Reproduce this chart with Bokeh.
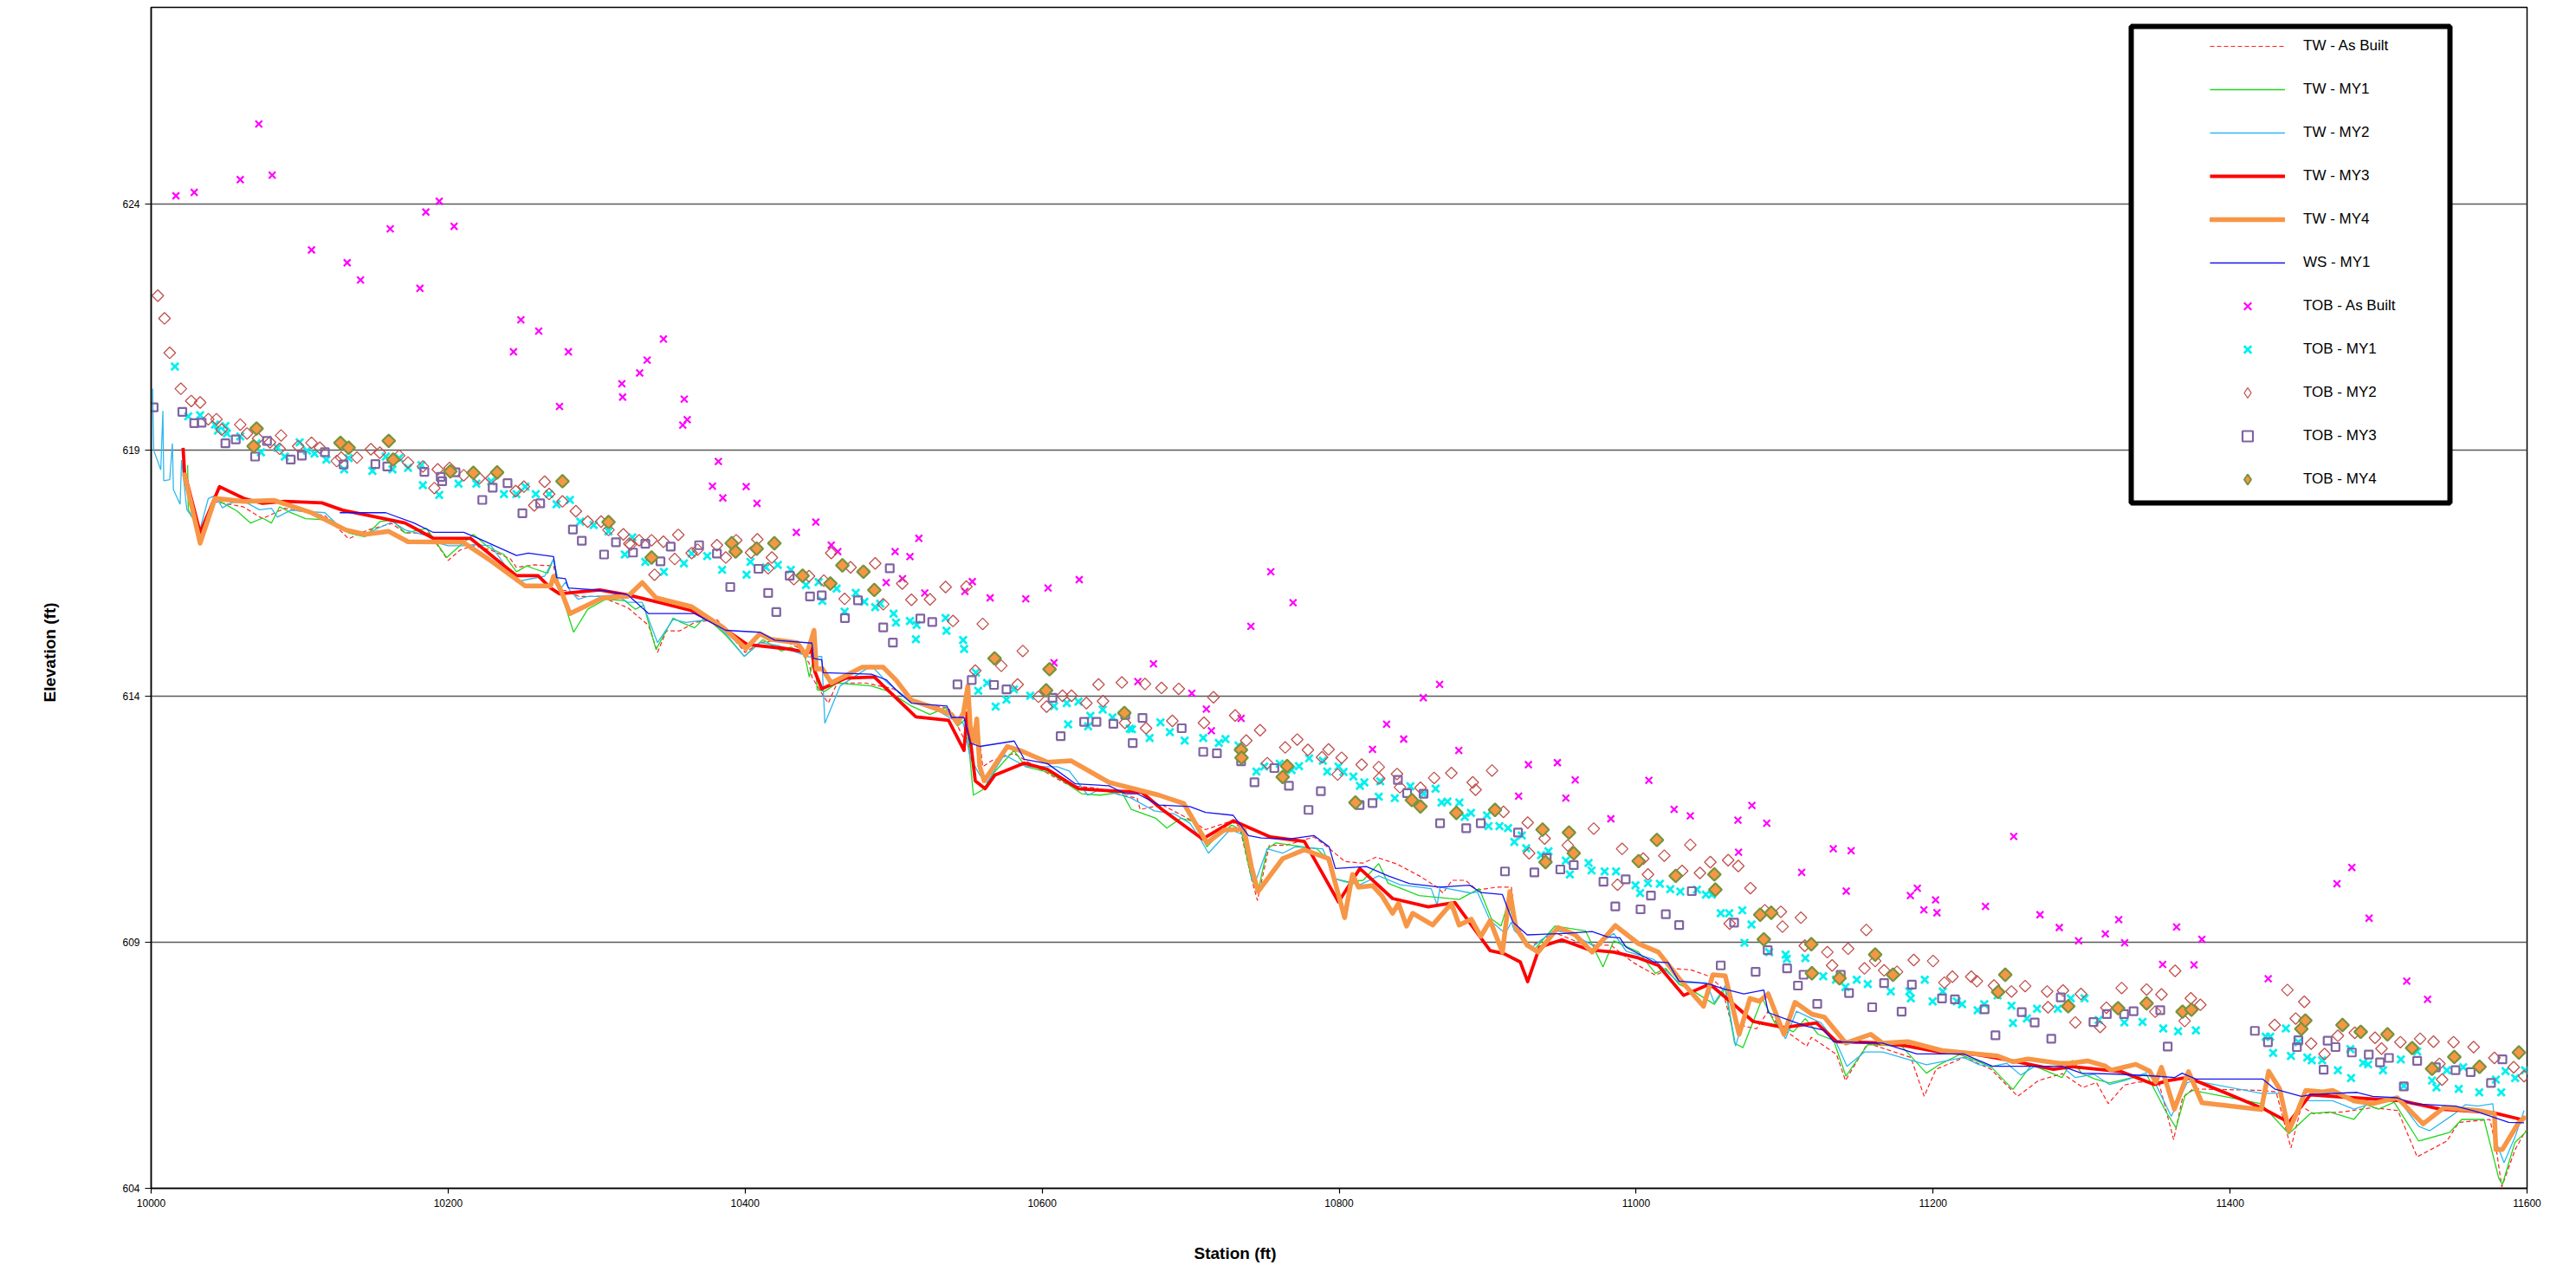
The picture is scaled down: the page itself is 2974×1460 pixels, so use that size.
import numpy as np
from bokeh.plotting import figure
from bokeh.models import Range1d, FixedTicker, Legend, LegendItem, BoxAnnotation, Title
from bokeh.embed import file_html
from bokeh.resources import INLINE

# ---------------- data (station ft, elevation ft) ----------------
x_ticks = [10000, 10200, 10400, 10600, 10800, 11000, 11200, 11400, 11600]
y_ticks = [604, 609, 614, 619, 624]

tw_ab = [(10042,617.96),(10062,617.85),(10075,617.61),(10090,617.82),(10117,617.67),(10133,617.2),(10146,617.38),(10162,617.51),(10171,617.32),(10187,617.32),(10200,616.76),(10208,616.97),(10217,617.06),(10229,616.97),(10242,616.79),(10246,616.62),(10258,616.67),(10271,616.65),(10275,616.15),(10279,616.15),(10288,616.03),(10302,616.03),(10321,615.8),(10335,615.44),(10341,614.89),(10347,615.33),(10356,615.33),(10366,615.5),(10381,615.56),(10400,614.89),(10410,615.09),(10425,615.15),(10435,615.0),(10443,614.68),(10445,614.39),(10452,614.04),(10456,613.86),(10462,614.27),(10481,614.27),(10500,614.15),(10512,613.89),(10537,613.76),(10547,613.16),(10558,613.1),(10560,612.57),(10566,612.69),(10581,612.84),(10589,612.69),(10604,612.43),(10618,612.19),(10637,612.13),(10652,612.0),(10664,611.93),(10666,611.7),(10681,611.79),(10698,611.52),(10710,611.29),(10727,611.46),(10733,611.35),(10741,610.29),(10745,609.85),(10753,610.97),(10764,610.97),(10783,611.14),(10792,610.94),(10804,610.64),(10816,610.61),(10825,610.73),(10839,610.59),(10854,610.35),(10866,610.12),(10870,610.0),(10876,610.26),(10885,610.26),(10893,610.06),(10906,610.12),(10916,610.12),(10919,609.41),(10928,608.9),(10945,609.2),(10965,608.95),(10983,608.94),(10998,608.59),(11013,608.33),(11023,608.47),(11037,608.44),(11050,608.3),(11058,608.06),(11064,607.36),(11081,607.24),(11089,607.6),(11096,607.3),(11115,606.89),(11118,607.07),(11135,606.72),(11141,606.19),(11156,606.95),(11185,606.66),(11194,605.87),(11202,606.42),(11221,606.66),(11239,606.42),(11257,605.87),(11271,606.19),(11287,606.33),(11301,606.05),(11310,606.15),(11318,605.72),(11329,606.1),(11338,606.16),(11352,606.16),(11362,604.99),(11368,605.84),(11375,606.02),(11421,605.99),(11431,605.96),(11441,604.82),(11448,605.67),(11456,605.52),(11475,605.55),(11496,605.64),(11513,605.58),(11526,604.64),(11546,604.96),(11554,605.34),(11575,605.4),(11579,604.85),(11583,604.03),(11592,604.79),(11599,605.17)]

tw_my1 = [(10024.6,618.7),(10025,617.79),(10033,617.32),(10042,618.02),(10050,617.9),(10058,617.76),(10067,617.52),(10075,617.62),(10081,617.52),(10086.5,617.85),(10092,617.76),(10104,617.61),(10121,617.58),(10133,617.32),(10144,617.24),(10154,617.55),(10162.5,617.58),(10171,617.32),(10185.5,617.41),(10199,616.82),(10208,617.06),(10217,617.29),(10227,617.03),(10237.6,616.88),(10246,616.53),(10253,616.65),(10258,616.59),(10267,616.5),(10271,616.79),(10275,616.2),(10284.5,615.3),(10294,615.77),(10306,615.97),(10319,615.94),(10326,615.77),(10331.7,615.85),(10340,614.95),(10351.5,615.59),(10357,615.5),(10366,615.39),(10373.4,615.62),(10387,615.24),(10399.5,614.81),(10412,615.15),(10424.5,614.92),(10430.7,615.0),(10440,614.86),(10443.2,614.39),(10447,614.86),(10448.5,614.13),(10453.7,614.1),(10462,614.27),(10485,614.21),(10496.4,614.1),(10512,613.8),(10524.5,613.63),(10535,613.77),(10543,613.39),(10548.5,613.54),(10550.6,613.01),(10553.7,611.99),(10560,612.1),(10568,612.46),(10581,612.9),(10589,612.57),(10603.7,612.46),(10614,612.28),(10626.6,612.02),(10639,611.99),(10653.7,612.05),(10660,611.7),(10676.6,611.52),(10684,611.32),(10693.3,611.52),(10701.6,611.46),(10708,611.11),(10711,610.94),(10718.3,611.17),(10727.7,611.38),(10734,611.29),(10741,610.29),(10745.4,610.03),(10751.6,610.9),(10757.5,611.02),(10785,610.9),(10791,610.73),(10797.5,610.29),(10805.8,610.23),(10816.2,610.26),(10826.7,610.6),(10833,610.2),(10853.8,609.95),(10880.8,609.87),(10894.4,610.09),(10902.7,609.47),(10909,609.33),(10914,609.82),(10918,609.37),(10930.9,608.83),(10945.4,609.33),(10966,609.23),(10977.7,608.5),(10985,609.03),(11001.7,608.8),(11013,608.37),(11020,608.47),(11028.8,608.15),(11039,608.0),(11052.7,607.74),(11060,608.06),(11066.3,606.95),(11072,606.86),(11085,607.86),(11093.4,607.36),(11105.9,607.18),(11114,607.45),(11122.6,607.13),(11133,607.01),(11141.3,606.28),(11156,606.92),(11178.8,606.89),(11195.5,606.34),(11204,606.51),(11218,606.72),(11231,606.57),(11239.6,606.45),(11253.8,606.01),(11266.3,606.51),(11286.8,606.25),(11293.8,606.6),(11300,606.34),(11309,606.22),(11318.8,606.14),(11330,606.22),(11343.8,606.31),(11357,605.55),(11363.6,605.23),(11369.8,605.9),(11375,605.99),(11421,605.72),(11439.6,605.11),(11454,605.52),(11467,605.55),(11483.4,605.4),(11491.7,605.7),(11500,605.61),(11510.5,605.75),(11527,604.96),(11548,605.14),(11556,605.4),(11571,605.4),(11581,604.2),(11583.4,604.08),(11591.8,604.93),(11600,605.17)]

tw_my2 = [(10001,620.25),(10001.7,619.0),(10006.5,618.6),(10007.9,619.8),(10008.5,618.38),(10012.5,618.4),(10014.3,619.14),(10015,618.2),(10019.5,617.9),(10020.5,618.8),(10024,617.8),(10033,617.4),(10038.5,618.02),(10043,618.08),(10048,617.83),(10054,617.93),(10062.5,617.96),(10073,617.79),(10081,617.82),(10085,617.64),(10094,617.78),(10117,617.73),(10125,617.5),(10133,617.38),(10146,617.32),(10162.5,617.55),(10171,617.38),(10187.6,617.25),(10194,617.11),(10200,617.06),(10210.5,617.06),(10217,617.08),(10229,617.06),(10246,616.33),(10265,616.44),(10271,616.79),(10275,616.15),(10279,616.32),(10282,616.15),(10287.6,615.97),(10294,616.03),(10300,616.03),(10312.6,616.06),(10321,615.91),(10330.7,615.91),(10341,615.09),(10351.5,615.56),(10360,615.5),(10376.6,615.56),(10387,615.27),(10399.5,614.81),(10410,615.09),(10422.4,615.03),(10443,614.8),(10451.6,614.81),(10453.7,613.45),(10464,614.21),(10485,614.62),(10496,614.27),(10512,613.89),(10530.8,613.69),(10539,613.54),(10547,613.45),(10551.6,612.75),(10558,612.4),(10563,612.25),(10574.5,612.81),(10589,612.57),(10610,612.57),(10618.3,612.48),(10630.8,611.99),(10639,612.11),(10660,611.93),(10675.6,611.67),(10689,611.61),(10699.5,611.42),(10705.8,611.14),(10712,610.81),(10726.6,611.29),(10737,611.17),(10741,610.29),(10744,610.26),(10751.6,610.9),(10762,610.81),(10770.4,610.94),(10789,610.9),(10797.5,610.29),(10803.7,610.23),(10814,610.17),(10826.7,610.35),(10841,610.17),(10862,610.09),(10866,609.76),(10868,610.12),(10889,610.0),(10893,610.03),(10901.7,609.44),(10912,609.18),(10916,609.41),(10918,609.24),(10930,608.9),(10945,609.25),(10960,609.12),(10972.5,608.91),(10985,609.18),(10993.3,608.82),(11012,608.65),(11028.8,608.18),(11047.5,608.18),(11052.7,607.77),(11060,608.12),(11067,606.89),(11076.7,607.89),(11083,607.77),(11089,608.0),(11095.5,607.3),(11100.7,607.04),(11108,607.6),(11124.6,607.36),(11135,606.95),(11142,606.48),(11153.8,606.77),(11166,606.77),(11195.5,606.51),(11220.5,606.66),(11231,606.51),(11240,606.48),(11249.7,606.54),(11259,606.3),(11268.4,606.48),(11286.8,606.48),(11295.8,606.25),(11308.3,606.32),(11318.8,606.11),(11329,606.19),(11345.8,606.37),(11356.3,605.72),(11360.4,605.46),(11371,606.14),(11375,606.19),(11421,605.93),(11433.4,605.93),(11439.6,605.23),(11450,605.78),(11469,605.78),(11483.4,605.61),(11498,605.75),(11512.6,605.84),(11527,605.26),(11534.5,605.17),(11550,605.49),(11558.4,605.7),(11566.8,605.67),(11577,605.72),(11579,604.96),(11584.5,604.52),(11592,605.05),(11598,605.58)]

tw_my3 = [(10021.5,619.05),(10022.5,618.55),(10033,617.32),(10046,618.26),(10062.5,618.02),(10075,617.92),(10090,617.96),(10115,617.93),(10129,617.78),(10142,617.7),(10171,617.52),(10190,617.21),(10215,617.21),(10246,616.45),(10260.5,616.45),(10269,616.2),(10275,616.08),(10302,616.16),(10321,616.06),(10343,615.9),(10364,615.74),(10385,615.39),(10401.6,615.05),(10426.6,614.97),(10443,614.89),(10444,615.1),(10447,614.5),(10451.6,614.15),(10468,614.37),(10487,614.39),(10515,613.58),(10537,613.51),(10547.4,612.9),(10549.5,613.66),(10555,612.28),(10561.6,612.12),(10568.3,612.4),(10588,612.64),(10603.7,612.51),(10624.6,612.12),(10645,612.08),(10667,612.05),(10680.8,611.7),(10708,611.1),(10728.7,611.47),(10753.7,611.14),(10776.6,611.05),(10799.6,609.82),(10814,610.5),(10836,609.89),(10860,609.72),(10878,609.81),(10901.7,608.83),(10911,608.77),(10922,608.6),(10927,608.2),(10935,608.9),(10950,609.05),(10968,608.85),(10985,608.8),(11001.7,608.68),(11015,608.53),(11032,607.92),(11049.6,608.15),(11068,607.68),(11078.8,607.39),(11099.6,607.27),(11121.5,607.36),(11135,606.98),(11160,606.96),(11181,606.9),(11204,606.77),(11229,606.72),(11251.8,606.6),(11281,606.42),(11293.8,606.47),(11327,606.37),(11349,606.11),(11358.4,606.19),(11371,606.25),(11379,606.16),(11400,605.9),(11423,605.61),(11439.6,605.34),(11454,605.9),(11483,605.84),(11515,605.78),(11541.7,605.61),(11577,605.54),(11596,605.4)]

tw_my4 = [(10022.5,618.5),(10033,617.11),(10043,618.02),(10062.5,617.96),(10083,617.98),(10108,617.73),(10131,617.38),(10144,617.29),(10160,617.35),(10173,617.14),(10210,617.13),(10227,616.79),(10252,616.24),(10269,616.24),(10271,616.44),(10276,616.15),(10282,615.68),(10304,616.0),(10321,616.03),(10330.7,616.31),(10340,616.0),(10364,615.82),(10385,615.4),(10400.5,614.97),(10410,615.27),(10417,615.16),(10435,615.09),(10441,614.83),(10444,615.09),(10446.4,615.34),(10448,614.55),(10452,614.56),(10458,614.27),(10478.7,614.59),(10493,614.59),(10501.6,614.33),(10512,613.92),(10526.6,613.77),(10539,613.63),(10543,613.45),(10547,613.66),(10550,614.21),(10551.6,613.39),(10554,613.07),(10556,613.54),(10558,612.57),(10561,612.28),(10576.6,612.98),(10585,612.9),(10603.7,612.66),(10619.3,612.69),(10645,612.25),(10651.6,612.2),(10678.7,611.99),(10695.4,611.82),(10711,611.02),(10722.5,611.28),(10736,611.3),(10741,610.53),(10745.4,610.03),(10762,610.7),(10776.6,610.88),(10793,610.7),(10803.7,609.5),(10809,610.38),(10813,610.12),(10822.5,610.15),(10828.7,609.95),(10836,609.59),(10840,609.79),(10845.4,609.33),(10849.6,609.59),(10863,609.35),(10875.6,609.79),(10880.8,609.35),(10889,609.47),(10895.4,609.12),(10901.7,609.44),(10910,608.8),(10915,610.03),(10919,609.3),(10926.7,608.94),(10934,608.8),(10947.5,609.3),(10959,609.15),(10970.4,608.8),(10986,609.34),(11001.7,608.97),(11015,608.8),(11028.8,608.27),(11045.4,607.7),(11051.7,608.34),(11060,608.32),(11069.4,607.13),(11076.7,607.86),(11083,607.8),(11089,607.95),(11099.6,607.13),(11107,607.78),(11118.4,607.54),(11126.7,607.48),(11141.3,606.95),(11158,607.13),(11166,606.95),(11183,606.98),(11206,606.8),(11243.4,606.69),(11253.8,606.57),(11264,606.63),(11285,606.54),(11291.7,606.54),(11304,606.59),(11315.6,606.49),(11320,606.4),(11336.5,606.52),(11345.9,606.38),(11350,606.16),(11353.8,606.46),(11362.5,605.61),(11372,606.37),(11381,605.74),(11421,605.6),(11426,606.38),(11433.4,606.02),(11439.6,605.17),(11446,605.61),(11451,605.99),(11462.6,605.96),(11469,605.99),(11483,605.78),(11496,605.72),(11504,605.78),(11512.6,605.84),(11530,605.31),(11544,605.64),(11567,605.58),(11578,605.52),(11579,604.79),(11583.4,604.79),(11594,605.32),(11598,605.43)]

ws_my1 = [(10127,617.73),(10158,617.73),(10177,617.52),(10190,617.33),(10210.5,617.33),(10221,617.2),(10246,616.86),(10254,616.91),(10271,616.84),(10273,616.41),(10279,616.39),(10281,616.2),(10304,616.15),(10321,616.06),(10335,615.68),(10366,615.68),(10387,615.34),(10410,615.3),(10420,615.14),(10445,615.08),(10446,614.77),(10451.6,614.74),(10452.6,614.48),(10485,614.45),(10495.3,614.33),(10501.6,614.13),(10512,613.86),(10536,613.8),(10539,613.57),(10547.4,613.57),(10551.6,613.05),(10558,612.98),(10581.2,613.09),(10588,612.72),(10603.7,612.63),(10622.5,612.22),(10645,612.18),(10655.8,612.02),(10664,612.02),(10678.7,611.79),(10699.5,611.76),(10710,611.64),(10728.7,611.58),(10739,611.17),(10747.5,611.12),(10766,611.1),(10783,611.17),(10793.3,610.94),(10797.5,610.5),(10818.3,610.54),(10833,610.35),(10847.5,610.19),(10868,610.12),(10888,610.16),(10895.4,610.01),(10910,609.97),(10917,609.41),(10926.7,609.15),(10951.7,609.18),(10970.4,609.22),(10980.8,609.11),(10989,609.09),(10993.3,608.9),(11012,608.6),(11021.5,608.59),(11028.8,608.21),(11039,608.19),(11049.6,608.15),(11058,608.06),(11072.5,607.95),(11086,608.03),(11089,607.57),(11101.7,607.43),(11114,607.3),(11126.7,607.21),(11133,606.98),(11166,606.95),(11189,606.73),(11220.5,606.73),(11240,606.48),(11262,606.48),(11286.8,606.48),(11300,606.34),(11325,606.32),(11350,606.28),(11362.5,606.25),(11367.7,606.34),(11377,606.22),(11422,606.22),(11430,606.02),(11448,605.87),(11456,605.91),(11485.5,605.95),(11496,605.87),(11512.6,605.84),(11523,605.72),(11552,605.67),(11566.8,605.55),(11587.6,605.34),(11598,605.33)]

tob_ab = [(10016.7,624.17),(10029,624.24),(10060,624.5),(10072.5,625.63),(10081.5,624.59),(10108,623.07),(10132,622.81),(10141,622.46),(10161,623.5),(10181,622.29),(10185,623.84),(10194,624.06),(10204,623.55),(10244,621.0),(10249,621.65),(10261,621.42),(10275,619.89),(10281,621.0),(10317,620.35),(10317.5,620.08),(10329,620.57),(10334,620.83),(10345,621.26),(10358,619.51),(10359,620.04),(10361,619.62),(10378,618.27),(10382,618.77),(10385,618.03),(10400.7,618.26),(10408,617.92),(10434.5,617.33),(10447.6,617.54),(10458,617.07),(10462.4,616.94),(10495,616.31),(10501,616.94),(10506,616.39),(10511,616.84),(10517,617.21),(10521,616.1),(10548,616.13),(10553,616.33),(10565,616.0),(10589,615.98),(10604,616.2),(10608,614.68),(10625,616.37),(10664.5,614.3),(10675,614.66),(10700.8,614.06),(10710.6,613.74),(10714,613.3),(10734,613.55),(10740.6,615.42),(10754,616.53),(10769,615.9),(10822.5,612.92),(10832,613.43),(10843.5,613.13),(10856.7,613.97),(10867.7,614.24),(10880.6,612.9),(10920.9,611.97),(10927.5,612.61),(10947,612.65),(10952.7,611.93),(10959,612.3),(10983,611.51),(11008.6,612.29),(11025.6,611.7),(11036.5,611.57),(11068.6,611.48),(11069,610.83),(11078,611.78),(11088,611.42),(11111.5,610.42),(11132.8,610.9),(11141.5,610.04),(11144.8,610.86),(11184.7,609.95),(11189.4,610.1),(11193.8,609.66),(11201.7,609.86),(11202.6,609.6),(11235.3,609.73),(11254.3,611.15),(11272,609.56),(11285,609.3),(11298,609.03),(11316,609.17),(11325,609.46),(11329,608.99),(11354.6,608.55),(11364,609.31),(11375.7,608.54),(11381,609.06),(11425.7,608.26),(11472,610.19),(11482,610.52),(11493.6,609.49),(11519,608.21),(11533,607.84)]

tob_my1 = [(10016,620.7),(10025,619.69),(10033,619.71),(10043,619.52),(10045,619.4),(10050,619.49),(10051,619.34),(10060,619.28),(10071,619.14),(10074,618.96),(10085,619.05),(10090,618.87),(10100,619.16),(10105,618.99),(10110,618.93),(10118,618.81),(10130,618.61),(10133,618.84),(10149,618.58),(10158,618.87),(10162.5,618.61),(10167,618.84),(10173,618.64),(10182,618.7),(10183,618.29),(10194,618.09),(10207,618.32),(10219,618.32),(10229,618.37),(10237.6,618.11),(10246,618.11),(10252,618.26),(10259,618.11),(10268,618.11),(10273,617.9),(10282,617.99),(10289,617.55),(10298,617.48),(10308,617.35),(10319,616.88),(10324,617.23),(10332.8,616.73),(10345.3,616.53),(10358.8,616.7),(10364,616.9),(10374.5,616.85),(10384.5,616.57),(10401,616.47),(10403.6,616.73),(10414,616.62),(10422,616.67),(10430.8,616.57),(10441,616.26),(10449.5,616.32),(10452,615.94),(10461.6,616.19),(10467,615.72),(10474.5,616.1),(10480.3,615.92),(10487.6,615.81),(10491,615.88),(10500,615.68),(10501.6,615.5),(10511,615.53),(10515,615.16),(10515.5,615.45),(10535,615.59),(10535.6,615.33),(10546.8,615.14),(10547.5,614.96),(10555.4,614.48),(10557,614.11),(10563,614.27),(10568.7,613.79),(10576,613.93),(10581,614.14),(10592,614.01),(10608,613.8),(10616.6,613.86),(10617.5,613.43),(10624.5,613.89),(10631,613.39),(10632.5,613.6),(10640.8,613.73),(10647.4,613.57),(10659,613.34),(10660.5,613.33),(10672.4,613.15),(10679.7,613.47),(10686,613.27),(10696,613.1),(10708.5,613.15),(10719,613.05),(10723.5,613.13),(10732.3,613.0),(10744.3,612.47),(10749.5,612.57),(10760,612.63),(10768,612.5),(10773,612.58),(10779.8,612.74),(10789,612.69),(10792,612.47),(10799.6,612.57),(10803,612.46),(10809.6,612.37),(10814,612.18),(10817,612.25),(10826.7,611.96),(10827.7,612.27),(10837.5,611.93),(10848,612.17),(10857,612.02),(10865,612.12),(10869,611.84),(10873,611.86),(10881,611.84),(10884.6,611.55),(10888.8,611.63),(10899.6,611.58),(10900.6,611.36),(10908,611.36),(10913.8,611.32),(10918,611.04),(10923,611.17),(10926,610.91),(10936,610.77),(10941,610.85),(10952.7,610.66),(10955.4,610.38),(10968,610.61),(10970,610.46),(10978.8,610.44),(10986.5,610.44),(10999.6,610.16),(11002.7,610.0),(11008,610.2),(11016,610.19),(11023,610.08),(11029.8,610.03),(11041,610.07),(11047,609.97),(11051,609.97),(11057,609.59),(11062.7,609.59),(11071.5,609.65),(11073,608.99),(11077.7,609.36),(11089.6,608.8),(11100.7,608.75),(11101.5,608.66),(11114,608.68),(11126,608.31),(11134.6,608.24),(11141,608.09),(11148.6,608.24),(11156,608.15),(11171.5,608.0),(11184,608.0),(11185,607.86),(11194.4,608.24),(11199.7,607.8),(11206.5,608.0),(11216,607.8),(11219.5,607.74),(11230,607.62),(11234.5,607.74),(11243.4,607.92),(11252.8,607.71),(11253.8,607.36),(11263.2,607.45),(11270,607.65),(11284,607.65),(11292.7,607.86),(11302,607.86),(11311.5,607.42),(11328.8,607.37),(11341,607.38),(11355,607.25),(11365,607.19),(11377,607.21),(11424,607.08),(11427,607.08),(11429,606.75),(11437.6,607.25),(11441,606.69),(11446,606.97),(11452,606.66),(11455,606.6),(11462,606.6),(11472.6,606.4),(11481,606.83),(11481.5,606.24),(11489.6,606.55),(11493,606.52),(11503,606.4),(11515,606.62),(11517,606.08),(11526,606.78),(11536,606.19),(11539,606.05),(11546,606.4),(11554,606.02),(11557,606.46),(11567.8,605.95),(11579,606.21),(11582.6,605.95),(11585.5,606.38),(11592,606.24),(11598.6,606.4)]

tob_my2 = [(10004.5,622.14),(10009,621.68),(10012.5,620.98),(10020,620.25),(10027,620.0),(10033,619.97),(10038.5,619.63),(10044,619.63),(10047.5,619.42),(10060,619.52),(10064.6,619.34),(10072,619.24),(10080,619.16),(10086.5,619.03),(10087.5,619.3),(10099,619.08),(10108,619.15),(10113.6,619.05),(10125,618.78),(10128,618.85),(10138.6,618.85),(10148,619.02),(10154,618.95),(10167,618.89),(10173,618.75),(10183,618.67),(10190.7,618.23),(10193,618.61),(10201,618.64),(10210.5,618.49),(10221,618.43),(10229,618.43),(10245.5,618.17),(10251,618.26),(10258,617.88),(10265,618.36),(10268,618.11),(10277,617.96),(10286,617.76),(10294,617.55),(10303,617.55),(10308,617.38),(10318,617.29),(10322,617.1),(10323,617.08),(10328.6,617.17),(10337,617.17),(10339,616.47),(10345,617.14),(10352.6,616.79),(10355,617.28),(10364,616.91),(10368,616.98),(10381,617.07),(10387,616.82),(10394,617.17),(10404,616.92),(10408.2,617.19),(10415.5,616.6),(10418,616.82),(10432.8,616.38),(10443,616.44),(10453,616.35),(10458,616.91),(10467,615.98),(10471,616.62),(10487.6,616.7),(10493,615.87),(10505.8,616.29),(10512,615.96),(10524.5,615.97),(10535,616.22),(10540,615.53),(10549,616.23),(10555,614.52),(10560,615.47),(10572.5,614.62),(10583.5,614.24),(10587,614.92),(10597.5,613.99),(10603,613.79),(10613.7,614.01),(10619.8,614.01),(10629.8,613.86),(10638,614.24),(10641,613.9),(10653.7,614.28),(10655.8,613.46),(10669.3,614.25),(10670,613.35),(10680.4,614.17),(10687.7,613.5),(10692,614.15),(10709,613.46),(10715.4,613.98),(10730,613.61),(10737.5,613.1),(10746.8,613.31),(10751.6,612.64),(10763.7,612.96),(10771.8,613.12),(10779,612.91),(10788.5,612.76),(10792.9,612.92),(10799,612.41),(10801.7,612.75),(10815.2,612.61),(10826.7,612.56),(10827,612.33),(10839,612.42),(10841,612.15),(10854.8,612.14),(10864,612.34),(10875.6,612.44),(10890,612.25),(10891.9,612.1),(10903,612.49),(10910.7,611.65),(10927,611.43),(10928,610.81),(10938.4,611.11),(10954,610.97),(10971.5,611.31),(10987.5,610.17),(10990.6,610.9),(11004.8,610.7),(11008,610.38),(11019,610.76),(11031,610.45),(11036.5,610.98),(11043,610.41),(11050,610.63),(11062,610.67),(11063,609.38),(11068.8,610.55),(11077,610.1),(11086.7,609.65),(11097.5,609.62),(11098.6,609.32),(11111,609.5),(11113.6,608.93),(11128.8,608.8),(11132,608.53),(11142.8,608.87),(11153.8,608.47),(11155,609.25),(11161,608.62),(11167,608.43),(11175.7,608.4),(11187,608.64),(11200,608.62),(11207.6,608.18),(11213,608.3),(11225.7,608.3),(11229.5,608.21),(11241,608.12),(11252.8,608.0),(11262,608.11),(11276.8,608.0),(11277.4,607.68),(11287.5,608.02),(11295.8,607.37),(11299.6,607.95),(11312.5,607.28),(11316.7,607.67),(11327,608.07),(11343.8,608.04),(11349.6,607.59),(11353.8,607.94),(11363,608.42),(11369.4,607.4),(11373.6,607.86),(11380,607.73),(11430,607.32),(11438.6,608.03),(11444.2,607.45),(11450,607.79),(11454.6,606.94),(11463.6,606.73),(11472.6,607.1),(11484,607.16),(11497.6,607.06),(11502,606.84),(11514.7,606.97),(11528,607.04),(11537,606.98),(11541,606.53),(11542.8,606.21),(11550.5,606.97),(11564,606.87),(11578,606.65),(11591,606.46),(11598,606.28)]

tob_my3 = [(10001.7,619.87),(10021,619.78),(10029,619.55),(10034,619.56),(10050,619.14),(10057,619.22),(10070,618.87),(10078,619.19),(10094,618.81),(10101.5,618.89),(10117,618.96),(10129.6,618.71),(10151,618.72),(10159,618.67),(10184,618.56),(10195,618.46),(10196,618.37),(10205,618.55),(10223,617.99),(10230,618.24),(10240,618.33),(10250,617.72),(10262,617.92),(10284,617.39),(10290,617.16),(10305,616.88),(10313,617.13),(10324.5,616.92),(10332.8,617.1),(10343,616.74),(10349.9,617.04),(10369,617.07),(10381,616.9),(10390,616.22),(10409,616.59),(10415.5,616.1),(10421,615.71),(10430,616.45),(10443.7,616.03),(10451.6,616.05),(10467.2,615.59),(10476,615.95),(10493,615.4),(10497.4,616.6),(10499.5,615.09),(10518,615.58),(10526,615.51),(10543,614.24),(10552.6,614.33),(10567.6,614.23),(10576,614.14),(10607,613.97),(10612.5,613.19),(10628.3,613.48),(10636.6,613.48),(10648,613.44),(10656,613.62),(10661,613.05),(10667.6,613.56),(10694,613.35),(10708.5,612.87),(10717.7,612.84),(10734,612.68),(10743,612.25),(10756.4,612.54),(10766.2,612.18),(10779.4,611.69),(10787.7,612.07),(10813.8,611.79),(10822.5,611.83),(10839.6,612.3),(10845.8,612.03),(10856.9,612.02),(10868,611.42),(10885.6,611.32),(10895.4,611.42),(10911.7,610.44),(10920.5,611.23),(10931.5,610.42),(10939.8,610.71),(10949,610.48),(10958,610.57),(10978,610.23),(10986,609.73),(10993,610.28),(11003,609.67),(11010,609.95),(11020,609.57),(11029,609.35),(11037.5,610.04),(11057,608.53),(11066,609.4),(11080.5,608.4),(11088.6,608.84),(11101.7,608.47),(11109,608.12),(11112.8,608.34),(11122,607.75),(11137.8,608.34),(11143.4,607.97),(11159,607.68),(11167,608.17),(11178.8,607.59),(11185.7,608.14),(11206,607.86),(11214.7,607.84),(11234.7,607.64),(11242,607.11),(11259.7,607.58),(11268.4,607.37),(11279.6,607.04),(11286,607.88),(11308,607.38),(11317,607.54),(11328.6,607.54),(11335,607.6),(11353,607.62),(11358,606.88),(11416.7,607.2),(11425.5,606.97),(11445,606.87),(11446,607.01),(11463,606.41),(11465.7,607.0),(11471,606.87),(11482,606.76),(11493.4,606.72),(11501,606.56),(11507,606.65),(11517,606.07),(11526,606.59),(11538.6,606.46),(11551.8,606.4),(11562,606.36),(11575.7,606.14),(11583.4,606.62)]

tob_my4 = [(10069,619.08),(10071,619.44),(10127.5,619.15),(10133,619.05),(10160,619.19),(10163,618.81),(10201.5,618.57),(10217,618.54),(10233,618.55),(10277,618.37),(10308,617.54),(10337,616.82),(10391,617.11),(10393.6,616.94),(10407.8,617.0),(10419.7,617.11),(10438.7,616.45),(10457.4,616.29),(10465.5,616.66),(10479.7,616.53),(10487,616.16),(10568,614.77),(10602.7,614.12),(10605,614.55),(10655.4,613.66),(10733.9,612.91),(10734.3,612.75),(10762,612.36),(10765,612.58),(10811,611.84),(10849,611.89),(10854.8,611.76),(10879,611.63),(10905,611.69),(10937,611.29),(10939,610.63),(10954.8,611.23),(10958,610.81),(11001.7,610.65),(11014,611.08),(11026.7,610.35),(11052.7,610.38),(11053.4,610.07),(11083.6,609.56),(11086,609.06),(11091,609.6),(11118,608.96),(11118.4,608.37),(11137,608.27),(11161,608.75),(11173,608.34),(11243.8,607.99),(11248.6,608.34),(11291,607.7),(11324.6,607.66),(11343.8,607.76),(11368,607.59),(11374,607.63),(11448,607.24),(11450.7,607.41),(11475.7,607.32),(11488,607.18),(11506,607.13),(11522.6,606.85),(11536,606.43),(11551,606.67),(11568,606.47),(11594.5,606.76)]

# ---------------- figure ----------------
FONT = "Liberation Sans"
p = figure(width=2974, height=1460,
           x_range=Range1d(10000, 11600), y_range=Range1d(604, 628),
           output_backend="svg", toolbar_location=None,
           min_border_left=174, min_border_right=57, min_border_top=8, min_border_bottom=89)
p.background_fill_color = "white"
p.border_fill_color = "white"
p.outline_line_color = "black"
p.outline_line_width = 1.5

p.xaxis.ticker = FixedTicker(ticks=x_ticks, minor_ticks=[])
p.yaxis.ticker = FixedTicker(ticks=y_ticks, minor_ticks=[])
p.xgrid.visible = False
p.ygrid.grid_line_color = "#5a5a5a"
p.ygrid.grid_line_width = 1.4

for ax in (p.xaxis[0], p.yaxis[0]):
    ax.axis_line_color = "black"
    ax.axis_line_width = 1.5
    ax.major_tick_line_color = "black"
    ax.major_tick_line_width = 1.2
    ax.major_tick_in = 0
    ax.minor_tick_line_color = None
    ax.major_label_text_font = FONT
    ax.major_label_text_font_size = "12px"
    ax.major_label_text_color = "black"
    # blank spacer label: reserves room so the titles below sit where the original has them
    ax.axis_label = "\u00a0"
    ax.axis_label_text_font = FONT
    ax.axis_label_text_font_size = "19px"

p.xaxis.major_tick_out = 6
p.xaxis.major_label_standoff = 6
p.xaxis.axis_label_standoff = 10
p.yaxis.major_tick_out = 7
p.yaxis.major_label_standoff = 6
p.yaxis.axis_label_standoff = 5

# axis titles as side titles (offset along the axis as in the original chart)
x_title = Title(text="Station (ft)", align="left", offset=1204, standoff=8,
                text_font=FONT, text_font_size="19px", text_font_style="bold", text_color="black")
y_title = Title(text="Elevation (ft)", align="left", offset=561, standoff=84,
                text_font=FONT, text_font_size="19px", text_font_style="bold", text_color="black")
p.add_layout(x_title, "below")
p.add_layout(y_title, "left")


def xs(d):
    return [a for a, b in d]


def ys(d):
    return [b for a, b in d]


r_ab = p.line(xs(tw_ab), ys(tw_ab), line_color="#FF2020", line_width=1.2, line_dash="5 3")
r_m1 = p.line(xs(tw_my1), ys(tw_my1), line_color="#1ED81E", line_width=1.3)
r_m2 = p.line(xs(tw_my2), ys(tw_my2), line_color="#2CB8F0", line_width=1.3)
r_m3 = p.line(xs(tw_my3), ys(tw_my3), line_color="#FF0000", line_width=3.8, line_join="round")
r_m4 = p.line(xs(tw_my4), ys(tw_my4), line_color="#F79646", line_width=5.5, line_join="round", line_cap="round")
r_ws = p.line(xs(ws_my1), ys(ws_my1), line_color="#1414F0", line_width=1.3)

s_ab = p.scatter(xs(tob_ab), ys(tob_ab), marker="x", size=11, line_color="#FF00FF", line_width=2.2)
s_m1 = p.scatter(xs(tob_my1), ys(tob_my1), marker="x", size=12, line_color="#00F0F0", line_width=2.8)
s_m2 = p.scatter(xs(tob_my2), ys(tob_my2), marker="square", angle=np.pi / 4, size=9.5,
                 fill_color=None, line_color="#C0504D", line_width=1.3)
s_m3 = p.scatter(xs(tob_my3), ys(tob_my3), marker="square", size=9,
                 fill_color=None, line_color="#8064A2", line_width=2.2)
s_m4 = p.scatter(xs(tob_my4), ys(tob_my4), marker="square", angle=np.pi / 4, size=10.5,
                 fill_color="#F79646", line_color="#77933C", line_width=2.2)

# legend-only glyphs for the diamond markers (a single NaN point: nothing drawn in the plot)
k_m2 = p.scatter([np.nan], [np.nan], marker="diamond", size=15, fill_color=None,
                 line_color="#C0504D", line_width=1.3)
k_m4 = p.scatter([np.nan], [np.nan], marker="diamond", size=16, fill_color="#F79646",
                 line_color="#77933C", line_width=2)

box = BoxAnnotation(left=2286, right=2654, top=1341, bottom=791,
                    left_units="screen", right_units="screen", top_units="screen", bottom_units="screen",
                    fill_color="white", fill_alpha=1.0, line_color="black", line_alpha=1.0, line_width=6)
p.add_layout(box)

items = [
    LegendItem(label="TW - As Built", renderers=[r_ab]),
    LegendItem(label="TW - MY1", renderers=[r_m1]),
    LegendItem(label="TW - MY2", renderers=[r_m2]),
    LegendItem(label="TW - MY3", renderers=[r_m3]),
    LegendItem(label="TW - MY4", renderers=[r_m4]),
    LegendItem(label="WS - MY1", renderers=[r_ws]),
    LegendItem(label="TOB - As Built", renderers=[s_ab]),
    LegendItem(label="TOB - MY1", renderers=[s_m1]),
    LegendItem(label="TOB - MY2", renderers=[k_m2]),
    LegendItem(label="TOB - MY3", renderers=[s_m3]),
    LegendItem(label="TOB - MY4", renderers=[k_m4]),
]
legend = Legend(items=items, location=(2367, 793), margin=0, padding=10, spacing=20,
                glyph_width=87, glyph_height=30, label_height=30, label_standoff=21,
                label_text_font=FONT, label_text_font_size="17px", label_text_color="black",
                border_line_alpha=0, background_fill_alpha=0)
p.add_layout(legend)

open("out.html", "w").write(file_html(p, INLINE))
